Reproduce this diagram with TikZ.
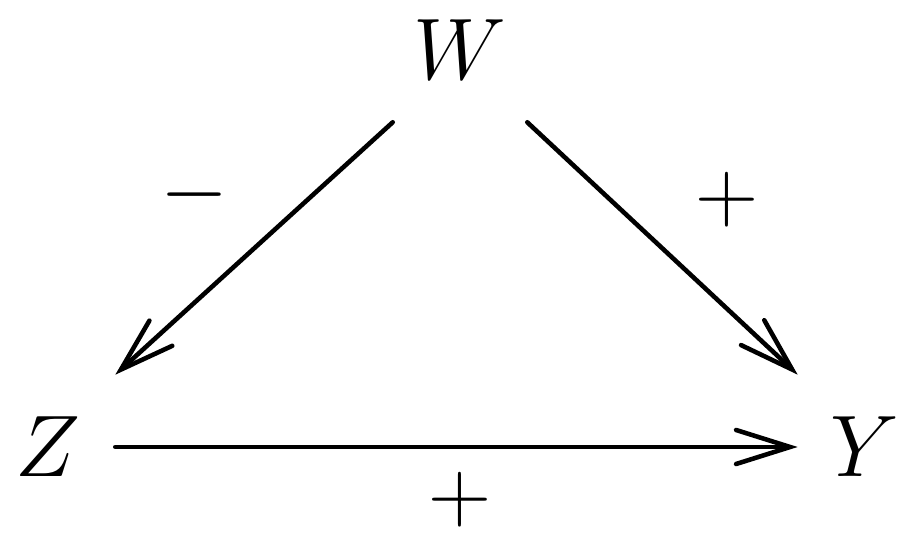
\documentclass[tikz,border=0pt]{standalone}
\usepackage{amsmath,amssymb}
\usetikzlibrary{arrows.meta,positioning}

\begin{document}
\begin{tikzpicture}[line width=1.3pt, >={Straight Barb[length=5.4mm, width=3.4mm, line cap=round]},
    vr/.style={rectangle, minimum width=1.3cm, minimum height=1.4cm, inner sep=0pt, font=\fontsize{38}{44}\selectfont},
    sgn/.style={inner sep=0pt, font=\fontsize{27}{32}\selectfont}]
  \useasboundingbox (0,0) rectangle (9.15,5.4);
  % ---------------- variables ----------------
  \node[vr] (W) at (4.6,4.9) {$W$};
  \node[vr] (Z) at (0.48,0.93) {$Z$};
  \node[vr] (Y) at (8.65,0.93) {$Y$};
  % ---------------- causal arrows ----------------
  \draw[->, line cap=round] (W.south west) -- (Z.north east);
  \draw[->, line cap=round] (W.south east) -- (Y.north west);
  \draw[->, line cap=round] (Z.east) -- (Y.west);
  % ---------------- signs ----------------
  \node[sgn] (sWZ) at (1.95,3.45) {$-$};
  \node[sgn] (sWY) at (7.27,3.4) {$+$};
  \node[sgn] (sZY) at (4.6,0.4) {$+$};
\end{tikzpicture}
\end{document}
